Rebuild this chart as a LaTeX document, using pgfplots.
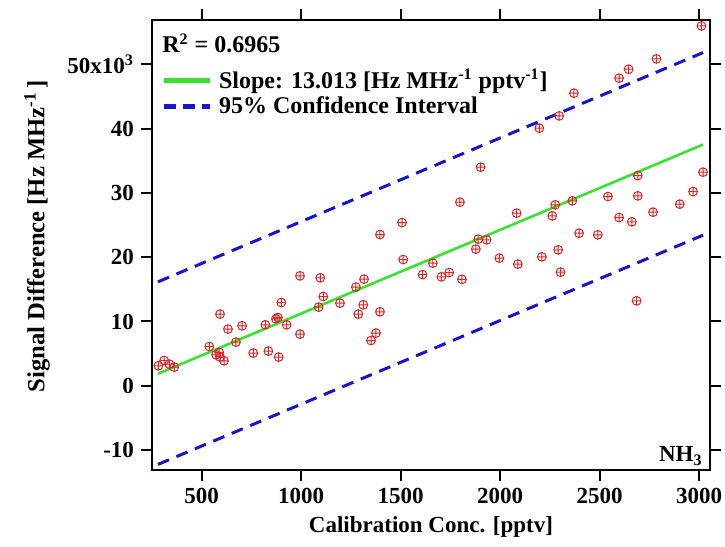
\documentclass[border=0pt]{standalone}
\usepackage{pgfplots}
\pgfplotsset{compat=1.18}
\usepackage{pgfplotstable}
\usepackage{fontspec}
\setmainfont{Liberation Serif}
\definecolor{ptred}{RGB}{220,40,40}
\definecolor{fitgreen}{RGB}{55,228,45}
\definecolor{ciblue}{RGB}{20,20,210}
\pgfplotstableread{
x y
282 3110
311 3934
337 3374
362 2908
538 6111
592 11149
632 8817
703 9330
572 4820
592 4463
612 3888
588 5178
672 6795
759 5085
820 9486
835 5396
873 10419
883 10621
900 12953
887 4463
927 9486
994 17105
994 8039
1088 12238
1096 16794
1111 13886
1195 12860
1275 15348
1316 16592
1287 11149
1312 12596
1396 11507
1376 8195
1351 7044
1396 23527
1507 25393
1513 19640
1610 17292
1662 19080
1705 16950
1744 17618
1808 16561
1798 28565
1902 34008
1878 21257
1890 22812
1932 22703
1996 19857
2083 26855
2089 18924
2210 20060
2292 21148
2304 17680
2262 26435
2277 28146
2363 28768
2397 23745
2491 23481
2542 29436
2598 26171
2662 25502
2692 29545
2692 32702
2769 27010
2686 13218
2903 28254
2970 30214
3020 33230
3012 55980
2786 50849
2646 49247
2598 47847
2371 45515
2297 41985
2197 40072
}\datatable
\begin{document}
\begin{tikzpicture}
\begin{axis}[
  scale only axis,
  width=279pt, height=225pt,
  xmin=250, xmax=3055,
  ymin=-13100, ymax=56900,
  xtick={500,1000,...,3000},
  ytick={-10000,0,10000,20000,30000,40000,50000},
  yticklabels={-10,0,10,20,30,40,{50x10\textsuperscript{3}}},
  scaled x ticks=false, scaled y ticks=false,
  /pgf/number format/assume math mode=true,
  /pgf/number format/1000 sep={},
  tick align=outside,
  major tick length=5.5pt,
  tick style={line width=1pt, black},
  axis line style={line width=1pt},
  tick label style={font=\fontsize{11.5}{13}\selectfont\bfseries},
  label style={font=\fontsize{11.5}{13}\selectfont\bfseries},
  xlabel={Calibration Conc. [pptv]},
  ylabel={Signal Difference [Hz MHz\textsuperscript{-1}\,]},
  xlabel style={at={(axis description cs:0.5,-0.127)}, anchor=center},
  ylabel style={at={(axis description cs:-0.206,0.52)}, anchor=center, font=\fontsize{12.3}{14}\selectfont\bfseries},
  legend style={draw=none, fill=none, at={(axis description cs:0.012,0.905)}, anchor=north west,
    font=\fontsize{12}{14}\selectfont\bfseries, row sep=-1.5pt, inner sep=1pt},
  legend cell align=left,
  clip=false,
]
\addplot[ciblue, line width=1.5pt, dash pattern=on 6pt off 4pt, forget plot] coordinates {(280,16170) (3020,51825)};
\addplot[ciblue, line width=1.5pt, dash pattern=on 6pt off 4pt, forget plot] coordinates {(280,-12230) (3020,23425)};
\addplot[only marks, mark=oplus, mark size=2.2pt, ptred, mark options={line width=0.5pt}, forget plot] table[x=x,y=y] {\datatable};
\addplot[fitgreen, line width=1.3pt, legend image code/.code={\draw[fitgreen, line width=2.5pt] (0pt,0pt) -- (23pt,0pt); \path (24.5pt,0pt);}] coordinates {(280,1870) (3020,37525)};
\addlegendentry{Slope: 13.013 [Hz MHz\textsuperscript{-1} pptv\textsuperscript{-1}]}
\addlegendimage{ciblue, line width=2.5pt, legend image code/.code={\draw[ciblue, line width=2.5pt, dash pattern=on 6pt off 3.5pt] (0pt,0pt) -- (23pt,0pt); \path (24.5pt,0pt);}}
\addlegendentry{95\% Confidence Interval}
\node[anchor=base west, font=\fontsize{12}{14}\selectfont\bfseries] at (axis description cs:0.006,0.927) {R\textsuperscript{2} = 0.6965};
\node[anchor=base east, font=\fontsize{11.5}{13}\selectfont\bfseries, inner sep=0pt] at (axis description cs:0.9875,0.018) {NH\textsubscript{3}};
\end{axis}
\pgfresetboundingbox
\path[use as bounding box] ([xshift=-76pt,yshift=-38.5pt]current axis.south west) rectangle ([xshift=7.5pt,yshift=10pt]current axis.north east);
\end{tikzpicture}
\end{document}
